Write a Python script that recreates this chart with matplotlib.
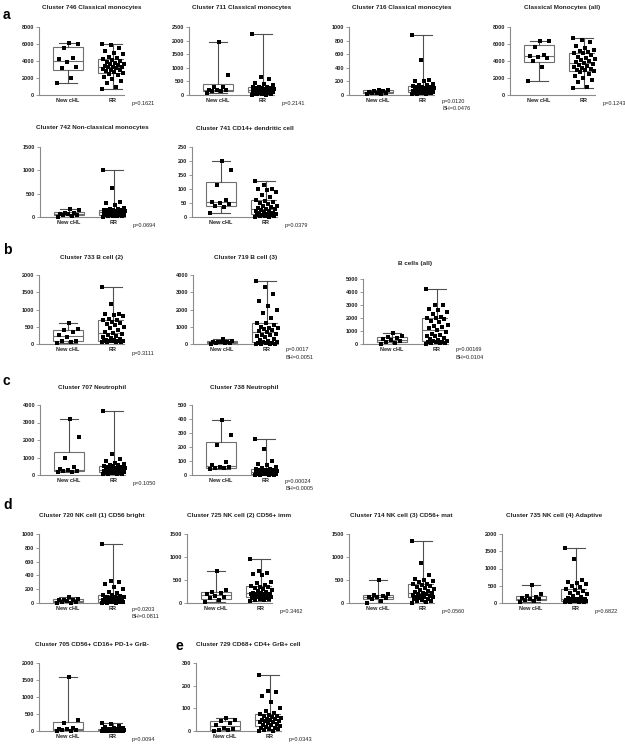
import numpy as np
import matplotlib
matplotlib.use("Agg")
import matplotlib.pyplot as plt

plt.rcParams['font.family'] = ['Liberation Sans', 'DejaVu Sans']

groups = ["New cHL", "RR"]

# ---- data ----
c746_new = [1450, 2000, 3200, 3300, 3900, 4200, 4400, 5500, 6000, 6100]
c746_rr = [750, 900, 1400, 1700, 1900, 2100, 2300, 2500, 2600, 2700, 2800, 2900, 3000, 3100, 3200, 3300, 3350, 3350,
           3400, 3500, 3600, 3700, 3800, 3900, 4000, 4100, 4200, 4300, 4500, 4800, 5000, 5200, 5500, 5900, 6000]
c711_new = [60, 130, 160, 170, 175, 190, 280, 300, 720, 1950]
c711_rr = [0, 10, 20, 30, 40, 50, 60, 80, 100, 110, 120, 130, 140, 150, 155, 160, 165, 170,
           180, 190, 200, 210, 230, 250, 260, 270, 280, 290, 300, 350, 400, 450, 580, 680, 2230]
c716_new = [10, 15, 25, 30, 35, 45, 55, 65, 75, 80]
c716_rr = [10, 15, 20, 25, 28, 30, 33, 36, 40, 45, 50, 55, 60, 65, 70, 72, 75, 80,
           85, 90, 95, 100, 110, 115, 120, 125, 130, 140, 150, 160, 200, 210, 220, 510, 880]
cmall_new = [1600, 3300, 4000, 4400, 4500, 4600, 4700, 5700, 6300, 6350]
cmall_rr = [800, 900, 1500, 1800, 2000, 2200, 2500, 2700, 2850, 2900, 3000, 3100, 3200, 3300, 3400, 3500, 3700, 3800,
            3900, 4000, 4100, 4200, 4300, 4500, 4700, 4900, 5000, 5100, 5200, 5300, 5500, 5800, 6200, 6500, 6700]
c742_new = [10, 20, 40, 45, 55, 65, 80, 90, 140, 170]
c742_rr = [10, 15, 20, 25, 30, 35, 40, 45, 50, 55, 60, 65, 70, 75, 80, 85, 90, 100,
           105, 110, 115, 120, 130, 140, 150, 155, 160, 170, 180, 200, 250, 300, 330, 620, 1000]
c741_new = [15, 35, 40, 45, 50, 55, 60, 113, 168, 200]
c741_rr = [0, 1, 2, 3, 5, 6, 7, 8, 10, 12, 14, 15, 18, 20, 22, 25, 28, 30,
           32, 35, 38, 40, 45, 50, 55, 58, 62, 70, 80, 90, 95, 100, 100, 115, 128]
c733_new = [30, 50, 80, 100, 200, 260, 350, 400, 440, 600]
c733_rr = [50, 60, 65, 70, 75, 80, 85, 90, 100, 110, 130, 150, 180, 200, 230, 250, 280, 310,
           350, 400, 450, 500, 550, 580, 600, 650, 690, 700, 720, 800, 850, 860, 880, 1150, 1660]
c719_new = [20, 40, 55, 70, 90, 110, 120, 140, 180, 300]
c719_rr = [0, 5, 10, 20, 40, 60, 80, 90, 100, 150, 250, 300, 380, 450, 500, 550, 600, 700,
           750, 800, 850, 900, 950, 1000, 1100, 1200, 1230, 1500, 1800, 2000, 2200, 2500, 2900, 3300, 3650]
ball_new = [30, 50, 140, 200, 280, 360, 450, 530, 600, 880]
ball_rr = [30, 50, 80, 100, 120, 150, 180, 200, 250, 300, 400, 500, 600, 650, 700, 800, 900, 1050,
           1200, 1300, 1400, 1500, 1700, 1800, 1900, 2000, 2000, 2100, 2300, 2500, 2600, 2700, 3000, 3000, 4200]
c707_new = [180, 200, 210, 230, 280, 320, 450, 1000, 2200, 3200]
c707_rr = [50, 60, 70, 80, 90, 100, 120, 130, 150, 170, 190, 200, 220, 240, 250, 270, 280, 300,
           320, 350, 380, 400, 420, 450, 480, 500, 520, 550, 600, 650, 700, 800, 900, 1200, 3680]
c738_new = [45, 50, 52, 55, 60, 70, 90, 215, 285, 395]
c738_rr = [0, 1, 2, 3, 4, 5, 6, 8, 10, 12, 14, 15, 17, 18, 20, 22, 23, 25,
           27, 28, 30, 32, 33, 35, 36, 38, 40, 45, 50, 55, 70, 80, 100, 185, 258]
c720_new = [0, 5, 12, 20, 30, 40, 45, 50, 60, 80]
c720_rr = [0, 3, 5, 8, 10, 12, 15, 18, 20, 25, 30, 35, 40, 45, 50, 55, 58, 60,
           65, 70, 75, 80, 85, 90, 100, 110, 120, 140, 160, 200, 230, 270, 300, 320, 850]
c725_new = [20, 60, 100, 120, 150, 190, 220, 240, 280, 700]
c725_rr = [50, 60, 70, 80, 90, 100, 110, 130, 140, 150, 160, 170, 180, 190, 195, 200, 205, 210,
           220, 240, 260, 280, 300, 320, 340, 350, 370, 400, 430, 450, 600, 620, 650, 700, 960]
c714_new = [0, 50, 90, 100, 120, 140, 160, 175, 200, 500]
c714_rr = [10, 20, 40, 50, 60, 80, 90, 100, 120, 130, 140, 150, 160, 180, 190, 200, 210, 220,
           240, 260, 280, 300, 320, 340, 370, 400, 410, 420, 450, 480, 500, 520, 600, 880, 1340]
c735_new = [20, 60, 100, 110, 120, 140, 160, 200, 250, 530]
c735_rr = [20, 25, 30, 40, 45, 50, 55, 60, 70, 75, 80, 85, 90, 100, 110, 115, 120, 130,
           150, 180, 200, 250, 280, 300, 350, 380, 400, 450, 500, 550, 580, 620, 660, 1280, 1580]
c705_new = [0, 10, 25, 30, 50, 70, 100, 240, 320, 1580]
c705_rr = [0, 0, 0, 1, 2, 3, 4, 5, 5, 8, 10, 12, 15, 18, 20, 22, 25, 30,
           32, 35, 38, 40, 42, 45, 48, 50, 55, 60, 70, 80, 100, 120, 150, 200, 230]
c729_new = [0, 3, 5, 8, 15, 25, 35, 42, 50, 58]
c729_rr = [0, 2, 5, 8, 10, 12, 15, 18, 22, 25, 28, 30, 35, 38, 40, 42, 45, 48,
           50, 52, 55, 58, 60, 65, 68, 70, 75, 80, 90, 100, 130, 155, 170, 175, 248]

titles = ["Cluster 746 Classical monocytes", "Cluster 711 Classical monocytes",
          "Cluster 716 Classical monocytes", "Classical Monocytes (all)",
          "Cluster 742 Non-classical monocytes", "Cluster 741 CD14+ dendritic cell",
          "Cluster 733 B cell (2)", "Cluster 719 B cell (3)", "B cells (all)",
          "Cluster 707 Neutrophil", "Cluster 738 Neutrophil",
          "Cluster 720 NK cell (1) CD56 bright", "Cluster 725 NK cell (2) CD56+ imm",
          "Cluster 714 NK cell (3) CD56+ mat", "Cluster 735 NK cell (4) Adaptive",
          "Cluster 705 CD56+ CD16+ PD-1+ GrB-", "Cluster 729 CD68+ CD4+ GrB+ cell"]
new_data = [c746_new, c711_new, c716_new, cmall_new, c742_new, c741_new, c733_new, c719_new, ball_new,
            c707_new, c738_new, c720_new, c725_new, c714_new, c735_new, c705_new, c729_new]
rr_data = [c746_rr, c711_rr, c716_rr, cmall_rr, c742_rr, c741_rr, c733_rr, c719_rr, ball_rr,
           c707_rr, c738_rr, c720_rr, c725_rr, c714_rr, c735_rr, c705_rr, c729_rr]
y_max = [8000, 2500, 1000, 8000, 1500, 250, 2000, 4000, 5000, 4000, 500, 1000, 1500, 1500, 2000, 2000, 300]
y_step = [2000, 500, 200, 2000, 500, 50, 500, 1000, 1000, 1000, 100, 200, 500, 500, 500, 500, 100]
p_texts = [["p=0.1621"], ["p=0.2141"], ["p=0.0120", "BH=0.0476"], ["p=0.1243"],
           ["p=0.0694"], ["p=0.0379"],
           ["p=0.3111"], ["p=0.0017", "BH=0.0051"], ["p=0.00169", "BH=0.0104"],
           ["p=0.1050"], ["p=0.00024", "BH=0.0005"],
           ["p=0.0203", "BH=0.0811"], ["p=0.3462"], ["p=0.0560"], ["p=0.6822"],
           ["p=0.0094"], ["p=0.0343"]]
section_labels = ["a", "b", "c", "d", "e"]

# ---- layout (pixels: left of y-axis, top, bottom) ----
W, H = 625, 750
AW = 85
layout = [(39, 27, 95), (189, 27, 95), (349, 27, 95), (510, 27, 95),
          (40, 147, 217), (192, 147, 217),
          (39, 275, 344), (193, 275, 344), (363, 279, 344),
          (40, 405, 475), (192, 405, 475),
          (39, 534, 603), (187, 534, 603), (349, 534, 603), (502, 534, 603),
          (39, 663, 731), (196, 663, 731)]
title_y = [8, 8, 8, 8, 128, 128, 257, 257, 263, 388, 388, 516, 516, 516, 516, 645, 645]
label_pos = [(3, 15), (3, 250), (3, 381), (3, 505), (175, 646)]

fig = plt.figure(figsize=(W / 100, H / 100), dpi=100)
fig.patch.set_facecolor("white")

axis_col = "#8a8a8a"
box_col = "#707070"
txt_col = "#222222"

for i in range(len(titles)):
    x0, top, bot = layout[i]
    ax = fig.add_axes([x0 / W, 1 - bot / H, AW / W, (bot - top) / H])
    stats = []
    for d, lab in zip([new_data[i], rr_data[i]], groups):
        d = np.asarray(d, float)
        q1, med, q3 = np.percentile(d, [25, 50, 75], method="weibull")
        stats.append(dict(med=med, q1=q1, q3=q3, whislo=d.min(), whishi=d.max(), label=lab, fliers=[]))
    ax.bxp(stats, positions=[1, 2], widths=0.68, showfliers=False, patch_artist=True,
           boxprops=dict(facecolor="white", edgecolor=box_col, linewidth=0.8),
           medianprops=dict(color=box_col, linewidth=0.8),
           whiskerprops=dict(color="#505050", linewidth=0.8),
           capprops=dict(color="#505050", linewidth=0.8), capwidths=0.42)
    for k, d in enumerate([new_data[i], rr_data[i]]):
        d = np.asarray(d, float)
        n = len(d)
        offs = (((np.arange(n) * 0.618) % 1.0) - 0.5) * 0.5
        ax.scatter(k + 1 + offs, d, s=5.5, marker="s", color="black", linewidths=0, zorder=4, clip_on=False)
    ax.set_xlim(0.356, 2.244)
    ax.set_ylim(0, y_max[i])
    ax.set_yticks(np.arange(0, y_max[i] + 1, y_step[i]))
    ax.set_yticklabels([str(int(v)) for v in np.arange(0, y_max[i] + 1, y_step[i])],
                       fontsize=4, color=txt_col, fontweight="bold")
    ax.set_xticks([1, 2])
    ax.set_xticklabels(groups, fontsize=4, color=txt_col, fontweight="bold")
    ax.tick_params(axis="y", length=2, width=0.6, color=axis_col, pad=1.5)
    ax.tick_params(axis="x", length=0, pad=2)
    for s in ["top", "right"]:
        ax.spines[s].set_visible(False)
    for s in ["left", "bottom"]:
        ax.spines[s].set_color(axis_col)
        ax.spines[s].set_linewidth(0.8)
    ax.patch.set_alpha(0)
    # title
    fig.text((x0 + AW / 2 + 10) / W, 1 - title_y[i] / H, titles[i], ha="center", va="center",
             fontsize=4.6, fontweight="bold", color=txt_col)
    # p-values
    for j, t in enumerate(p_texts[i]):
        yy = bot + (9 if len(p_texts[i]) == 1 else 6) + j * 7.5
        fig.text((x0 + AW + 8) / W, 1 - yy / H, t, ha="left", va="center", fontsize=4, color=txt_col)

for lab, (lx, ly) in zip(section_labels, label_pos):
    fig.text(lx / W, 1 - ly / H, lab, ha="left", va="center", fontsize=10, fontweight="bold", color="black")

fig.savefig("out.png", dpi=100, facecolor="white")
